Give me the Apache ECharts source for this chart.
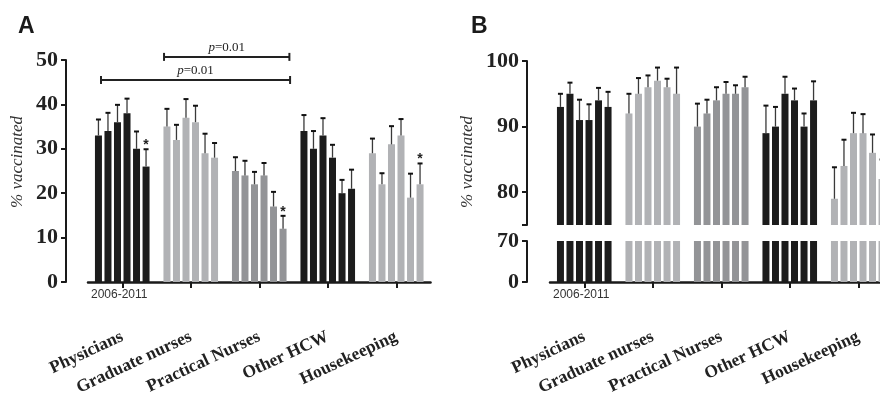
<!DOCTYPE html>
<html style="height: 100%">
<head>
  <meta charset="utf-8">
</head>
<body style="height: 100%; margin: 0; background: #fff">
  <div id="container" style="width: 880px; height: 395px"></div>
  <script type="text/javascript" src="https://cdn.jsdelivr.net/npm/echarts@6/dist/echarts.min.js"></script>
  <script type="text/javascript">
// categories and years
var categories = ['Physicians', 'Graduate nurses', 'Practical Nurses', 'Other HCW', 'Housekeeping'];
var years = ['2006', '2007', '2008', '2009', '2010', '2011'];

// panel A: mean % vaccinated (row = category, col = year) and top of error bar
var meanA = [
  [33, 34, 36, 38, 30, 26],
  [35, 32, 37, 36, 29, 28],
  [25, 24, 22, 24, 17, 12],
  [34, 30, 33, 28, 20, 21],
  [29, 22, 31, 33, 19, 22]
];
var upperA = [
  [36.6, 38.1, 39.9, 41.3, 33.9, 29.9],
  [39.0, 35.4, 41.2, 39.7, 33.4, 31.3],
  [28.1, 27.3, 24.8, 26.8, 20.3, 14.9],
  [37.6, 34.0, 36.9, 30.9, 23.0, 25.3],
  [32.3, 24.5, 35.1, 36.7, 24.4, 26.7]
];
// [category, year] bars marked with *
var starsA = [[0, 5], [2, 5], [4, 5]];

// panel B
var meanB = [
  [93, 95, 91, 91, 94, 93],
  [92, 95, 96, 97, 96, 95],
  [90, 92, 94, 95, 95, 96],
  [89, 90, 95, 94, 90, 94],
  [79, 84, 89, 89, 86, 82]
];
var upperB = [
  [95.0, 96.7, 94.1, 93.4, 95.9, 95.3],
  [95.0, 97.4, 97.8, 99.0, 97.3, 99.0],
  [93.5, 94.1, 96.0, 96.8, 96.3, 97.6],
  [93.2, 93.0, 97.6, 95.8, 92.0, 96.9],
  [83.8, 88.0, 92.1, 91.9, 88.8, 85.0]
];

// significance brackets of panel A: [category, offset in bands]
var bracketFrom = [[0, -0.31], [1, -0.39]];
var bracketTo = [[2, 0.45], [2, 0.44]];
var bracketY = [45.5, 50.7];
var bracketLabel = ['p=0.01', 'p=0.01'];

var groupColors = ['#1c1c1c', '#b1b2b5', '#939497', '#1c1c1c', '#b1b2b5'];
var BAR_W = 7;
var BAR_GAP = 0.36;
var PITCH = BAR_W * (1 + BAR_GAP);
var serif = '"Liberation Serif", "DejaVu Serif", serif';
var ink = '#1a1a1a';

var dom = document.getElementById('container');
var myChart = echarts.init(dom, null, { renderer: 'canvas' });

function isStar(list, c, y) {
  return list.some(function (s) { return s[0] === c && s[1] === y; }) ? 1 : 0;
}

function errData(mean, upper, stars) {
  var out = [];
  mean.forEach(function (row, c) {
    row.forEach(function (v, y) {
      out.push([c, y, v, upper[c][y], isStar(stars, c, y)]);
    });
  });
  return out;
}

function renderErr(params, api) {
  var cat = api.value(0);
  var yi = api.value(1);
  var base = api.coord([cat, api.value(2)]);
  var top = api.coord([cat, api.value(3)]);
  var x = base[0] + (yi - 2.5) * PITCH;
  var children = [
    { type: 'line', shape: { x1: x, y1: base[1], x2: x, y2: top[1] },
      style: { stroke: '#3a3a3a', lineWidth: 1.3 } },
    { type: 'line', shape: { x1: x - 2.5, y1: top[1], x2: x + 2.5, y2: top[1] },
      style: { stroke: '#111', lineWidth: 2 } }
  ];
  if (api.value(4)) {
    children.push({
      type: 'text', x: x, y: top[1] - 4,
      style: { text: '*', align: 'center', verticalAlign: 'middle',
        font: 'bold 14px "Liberation Sans", sans-serif', fill: '#222' }
    });
  }
  return { type: 'group', children: children };
}

function renderBracket(params, api) {
  var i = params.dataIndex;
  var band = api.size([1, 0])[0];
  var p1 = api.coord([api.value(0), api.value(4)]);
  var p2 = api.coord([api.value(2), api.value(4)]);
  var x1 = p1[0] + api.value(1) * band;
  var x2 = p2[0] + api.value(3) * band;
  var y = p1[1];
  var lab = bracketLabel[i];
  var st = { stroke: '#222', lineWidth: 2 };
  return {
    type: 'group',
    children: [
      { type: 'line', shape: { x1: x1, y1: y, x2: x2, y2: y }, style: st },
      { type: 'line', shape: { x1: x1, y1: y - 4, x2: x1, y2: y + 4 }, style: st },
      { type: 'line', shape: { x1: x2, y1: y - 4, x2: x2, y2: y + 4 }, style: st },
      { type: 'text', x: (x1 + x2) / 2, y: y - 3,
        style: { text: '{i|' + lab.charAt(0) + '}' + lab.slice(1),
          align: 'center', verticalAlign: 'bottom',
          fontFamily: serif, fontSize: 13, fill: '#222',
          rich: { i: { fontStyle: 'italic', fontFamily: serif, fontSize: 13 } } } }
    ]
  };
}

function barSeries(mean, xi, yi) {
  return years.map(function (yr, y) {
    return {
      name: yr,
      type: 'bar',
      xAxisIndex: xi,
      yAxisIndex: yi,
      barWidth: BAR_W,
      barGap: (BAR_GAP * 100) + '%',
      itemStyle: { color: function (p) { return groupColors[p.dataIndex]; } },
      data: mean.map(function (row) { return row[y]; })
    };
  });
}

function yAxisBase(grid, extra) {
  var a = {
    type: 'value', gridIndex: grid, offset: 23,
    splitLine: { show: false },
    axisLine: { show: true, lineStyle: { color: ink, width: 2 } },
    axisTick: { show: true, length: 5, lineStyle: { color: ink, width: 2 } },
    axisLabel: { margin: 8, color: '#222', fontFamily: serif, fontWeight: 'bold', fontSize: 22 }
  };
  return Object.assign(a, extra);
}

function xAxisBase(grid, show) {
  return {
    type: 'category', gridIndex: grid, data: categories, offset: 23,
    show: show,
    axisLine: { show: true, lineStyle: { color: ink, width: 2.5 } },
    axisTick: { show: true, alignWithLabel: true, length: 6, lineStyle: { color: ink, width: 2 } },
    axisLabel: { interval: 0, rotate: 25, margin: 31, color: '#222',
      fontFamily: serif, fontWeight: 'bold', fontSize: 17.5 }
  };
}

var option = {
  animation: false,
  backgroundColor: '#fff',
  grid: [
    { left: 88, top: 60, width: 342.5, height: 222, outerBoundsMode: 'none' },
    { left: 550, top: 61, width: 342.5, height: 164, outerBoundsMode: 'none' },
    { left: 550, top: 241, width: 342.5, height: 41, outerBoundsMode: 'none' }
  ],
  xAxis: [xAxisBase(0, true), xAxisBase(1, false), xAxisBase(2, true)],
  yAxis: [
    yAxisBase(0, { min: 0, max: 50, interval: 10, offset: 22 }),
    yAxisBase(1, { min: 75, max: 100, interval: 5,
      axisTick: { show: true, length: 5, customValues: [75, 80, 90, 100], lineStyle: { color: ink, width: 2 } },
      axisLabel: { margin: 8, color: '#222', fontFamily: serif, fontWeight: 'bold', fontSize: 22,
        customValues: [80, 90, 100] } }),
    yAxisBase(2, { min: 0, max: 70, interval: 70 }),
    // inner halves of the axis-break caps
    yAxisBase(1, { min: 75, max: 100, interval: 5, axisLine: { show: false }, axisLabel: { show: false },
      axisTick: { show: true, inside: true, length: 4, customValues: [75], lineStyle: { color: ink, width: 2 } } }),
    yAxisBase(2, { min: 0, max: 70, interval: 70, axisLine: { show: false }, axisLabel: { show: false },
      axisTick: { show: true, inside: true, length: 4, customValues: [70], lineStyle: { color: ink, width: 2 } } })
  ],
  graphic: [
    { type: 'text', left: 18, top: 15, style: { text: 'A', font: 'bold 23px "Liberation Sans", sans-serif', fill: '#1a1a1a' } },
    { type: 'text', left: 471, top: 15, style: { text: 'B', font: 'bold 23px "Liberation Sans", sans-serif', fill: '#1a1a1a' } },
    { type: 'text', left: 91, top: 289, style: { text: '2006-2011', font: '12px "Liberation Sans", sans-serif', fill: '#333' } },
    { type: 'text', left: 553, top: 289, style: { text: '2006-2011', font: '12px "Liberation Sans", sans-serif', fill: '#333' } },
    { type: 'text', x: 18, y: 162, rotation: Math.PI / 2,
      style: { text: '% vaccinated', align: 'center', verticalAlign: 'middle', font: 'italic 17px ' + serif, fill: '#333' } },
    { type: 'text', x: 468, y: 162, rotation: Math.PI / 2,
      style: { text: '% vaccinated', align: 'center', verticalAlign: 'middle', font: 'italic 17px ' + serif, fill: '#333' } }
  ],
  series: []
    .concat(barSeries(meanA, 0, 0))
    .concat(barSeries(meanB, 1, 1))
    .concat(barSeries(meanB, 2, 2))
    .concat([
      { type: 'custom', xAxisIndex: 0, yAxisIndex: 0, renderItem: renderErr,
        encode: { x: 0, y: [2, 3] }, data: errData(meanA, upperA, starsA), z: 3 },
      { type: 'custom', xAxisIndex: 1, yAxisIndex: 1, renderItem: renderErr,
        encode: { x: 0, y: [2, 3] }, data: errData(meanB, upperB, []), z: 3 },
      { type: 'custom', xAxisIndex: 0, yAxisIndex: 0, renderItem: renderBracket, clip: false,
        encode: { x: [0, 2], y: 4 },
        data: bracketY.map(function (y, i) {
          return [bracketFrom[i][0], bracketFrom[i][1], bracketTo[i][0], bracketTo[i][1], y];
        }), z: 3 }
    ])
};

myChart.setOption(option);
window.addEventListener('resize', myChart.resize);
  </script>
</body>
</html>
